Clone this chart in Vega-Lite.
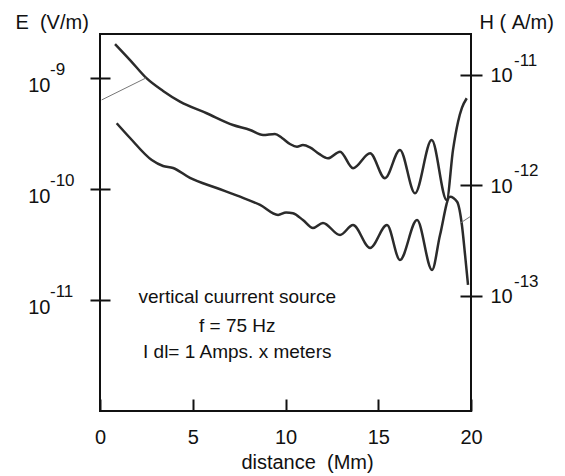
{
  "$schema": "https://vega.github.io/schema/vega-lite/v6.json",
  "width": 371,
  "height": 377,
  "autosize": "none",
  "padding": {"left": 100, "top": 34, "right": 94, "bottom": 65},
  "background": "white",
  "config": {
    "view": {"stroke": "#111", "strokeWidth": 2},
    "font": "Liberation Sans",
    "axis": {"labelColor": "#111", "titleColor": "#111", "tickColor": "#111", "tickWidth": 2, "grid": false, "domain": false, "labelFont": "Liberation Sans", "titleFont": "Liberation Sans"}
  },
  "datasets": {
    "ecurve": [
      {"d": 0.81, "E": 2.02e-9}, {"d": 1.62, "E": 1.45e-9}, {"d": 2.52, "E": 9.9e-10}, {"d": 3.40, "E": 7.64e-10},
      {"d": 4.31, "E": 6.12e-10}, {"d": 5.75, "E": 4.81e-10}, {"d": 7.17, "E": 3.77e-10}, {"d": 8.09, "E": 3.40e-10},
      {"d": 8.79, "E": 3.06e-10}, {"d": 9.43, "E": 3.13e-10}, {"d": 9.81, "E": 2.88e-10}, {"d": 10.24, "E": 2.54e-10},
      {"d": 10.62, "E": 2.40e-10}, {"d": 10.94, "E": 2.49e-10}, {"d": 11.32, "E": 2.37e-10}, {"d": 11.81, "E": 2.07e-10},
      {"d": 12.29, "E": 1.89e-10}, {"d": 12.94, "E": 2.17e-10}, {"d": 13.64, "E": 1.54e-10}, {"d": 14.56, "E": 2.10e-10},
      {"d": 15.36, "E": 1.25e-10}, {"d": 16.17, "E": 2.25e-10}, {"d": 16.98, "E": 9.15e-11}, {"d": 17.88, "E": 2.76e-10},
      {"d": 18.69, "E": 7.96e-11}, {"d": 19.03, "E": 2.25e-10}, {"d": 19.30, "E": 4.02e-10}, {"d": 19.51, "E": 5.37e-10},
      {"d": 19.77, "E": 6.57e-10}
    ],
    "hcurve": [
      {"d": 0.90, "H": 3.66e-12}, {"d": 1.62, "H": 2.69e-12}, {"d": 2.79, "H": 1.70e-12}, {"d": 3.40, "H": 1.50e-12},
      {"d": 3.94, "H": 1.44e-12}, {"d": 4.85, "H": 1.17e-12}, {"d": 6.29, "H": 9.49e-13}, {"d": 7.55, "H": 7.92e-13},
      {"d": 8.63, "H": 6.66e-13}, {"d": 9.60, "H": 5.41e-13}, {"d": 10.03, "H": 5.70e-13}, {"d": 10.40, "H": 5.60e-13},
      {"d": 10.94, "H": 4.87e-13}, {"d": 11.48, "H": 4.12e-13}, {"d": 12.02, "H": 4.58e-13}, {"d": 12.94, "H": 3.56e-13},
      {"d": 13.64, "H": 4.39e-13}, {"d": 14.56, "H": 2.72e-13}, {"d": 15.47, "H": 4.39e-13}, {"d": 16.17, "H": 2.12e-13},
      {"d": 17.09, "H": 4.87e-13}, {"d": 17.90, "H": 1.72e-13}, {"d": 18.33, "H": 3.56e-13}, {"d": 18.87, "H": 7.92e-13},
      {"d": 19.25, "H": 7.13e-13}, {"d": 19.51, "H": 4.39e-13}, {"d": 19.68, "H": 2.35e-13}, {"d": 19.84, "H": 1.26e-13}
    ],
    "eexp": [{"d": 0, "E": 1e-9, "e": "-9"}, {"d": 0, "E": 1e-10, "e": "-10"}, {"d": 0, "E": 1e-11, "e": "-11"}],
    "hexp": [{"d": 20, "H": 1e-11, "e": "-11"}, {"d": 20, "H": 1e-12, "e": "-12"}, {"d": 20, "H": 1e-13, "e": "-13"}],
    "notes": [
      {"d": 7.4, "E": 1.053e-11, "t": "vertical cuurrent source"},
      {"d": 7.4, "E": 5.89e-12, "t": "f = 75 Hz"},
      {"d": 7.4, "E": 3.37e-12, "t": "I dl= 1 Amps. x meters"}
    ],
    "earrow": [{"d": 2.48, "E": 1e-9, "d2": 0.09, "E2": 6.34e-10}],
    "harrow": [{"d": 19.41, "H": 4.55e-13, "d2": 19.95, "H2": 5.22e-13}]
  },
  "encoding": {
    "x": {
      "field": "d", "type": "quantitative",
      "scale": {"domain": [0, 20], "nice": false},
      "axis": {
        "values": [0, 5, 10, 15, 20], "tickSize": 12, "offset": -12, "labelPadding": 16,
        "labelFontSize": 20, "labelFlush": false, "labelOverlap": false,
        "title": "distance\u00a0\u00a0(Mm)", "titleX": 207, "titleY": 69, "titleAlign": "center",
        "titleBaseline": "alphabetic", "titleFontSize": 20, "titleFontWeight": "normal"
      }
    }
  },
  "layer": [
    {
      "encoding": {
        "y": {
          "field": "E", "type": "quantitative",
          "scale": {"type": "log", "domain": [1e-12, 2.489e-9], "nice": false},
          "axis": {
            "orient": "left", "values": [1e-9, 1e-10, 1e-11], "labelExpr": "'10'",
            "tickSize": 20, "offset": -10, "labelPadding": 40, "labelOffset": 8,
            "labelFontSize": 20, "labelOverlap": false,
            "title": "E\u00a0\u00a0(V/m)", "titleAngle": 0, "titleAlign": "left", "titleBaseline": "alphabetic",
            "titleX": -95, "titleY": -6, "titleFontSize": 20, "titleFontWeight": "normal"
          }
        }
      },
      "layer": [
        {"data": {"name": "ecurve"}, "mark": {"type": "line", "interpolate": "monotone", "stroke": "#2b2b2b", "strokeWidth": 2.5}},
        {"data": {"name": "earrow"}, "mark": {"type": "rule", "stroke": "#777", "strokeWidth": 1}, "encoding": {"x2": {"field": "d2"}, "y2": {"field": "E2"}}},
        {"data": {"name": "eexp"}, "mark": {"type": "text", "align": "left", "baseline": "alphabetic", "dx": -50, "dy": -3, "fontSize": 17, "fill": "#111"}, "encoding": {"text": {"field": "e", "type": "nominal"}}},
        {"data": {"name": "notes"}, "mark": {"type": "text", "align": "center", "baseline": "middle", "fontSize": 19, "fill": "#111"}, "encoding": {"text": {"field": "t", "type": "nominal"}}}
      ]
    },
    {
      "encoding": {
        "y": {
          "field": "H", "type": "quantitative",
          "scale": {"type": "log", "domain": [9.1e-15, 2.35e-11], "nice": false},
          "axis": {
            "orient": "right", "values": [1e-11, 1e-12, 1e-13], "labelExpr": "'10'",
            "tickSize": 22, "offset": -11, "labelPadding": 8, "labelOffset": 1,
            "labelFontSize": 20, "labelOverlap": false,
            "title": "H\u00a0(\u00a0A/m)", "titleAngle": 0, "titleAlign": "left", "titleBaseline": "alphabetic",
            "titleX": 19, "titleY": -6, "titleFontSize": 20, "titleFontWeight": "normal"
          }
        }
      },
      "layer": [
        {"data": {"name": "hcurve"}, "mark": {"type": "line", "interpolate": "monotone", "stroke": "#2b2b2b", "strokeWidth": 2.5}},
        {"data": {"name": "harrow"}, "mark": {"type": "rule", "stroke": "#777", "strokeWidth": 1}, "encoding": {"x2": {"field": "d2"}, "y2": {"field": "H2"}}},
        {"data": {"name": "hexp"}, "mark": {"type": "text", "align": "left", "baseline": "alphabetic", "dx": 43, "dy": -9, "fontSize": 17, "fill": "#111"}, "encoding": {"text": {"field": "e", "type": "nominal"}}}
      ]
    }
  ],
  "resolve": {"scale": {"y": "independent"}}
}
